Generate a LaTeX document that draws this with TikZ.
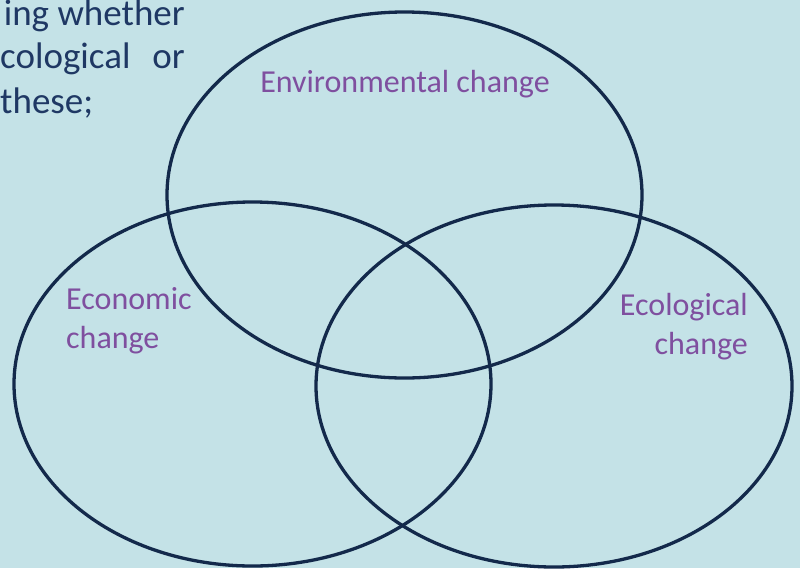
\documentclass[tikz,border=0pt]{standalone}
\usepackage{fontspec}
\setmainfont{Carlito}
\definecolor{bg}{HTML}{C4E2E7}
\definecolor{navy}{HTML}{13294B}
\definecolor{txtblue}{HTML}{1F3864}
\definecolor{lbl}{HTML}{7F4F9F}
\tikzset{
  venn/.style={draw=navy, line width=3.3pt},
  lbltext/.style={text=lbl, font=\fontsize{32}{38}\selectfont, inner sep=0pt},
  bodytext/.style={text=txtblue, font=\fontsize{37}{42}\selectfont, inner sep=0pt}
}
\begin{document}
\begin{tikzpicture}[x=1pt,y=-1pt]
\useasboundingbox (0,0) rectangle (800,568);
\fill[bg] (0,0) rectangle (800,568);
\clip (0,0) rectangle (800,568);
% body text (cropped paragraph)
\node[bodytext, anchor=base east] (t1) at (185,25) {ing whether};
\node[bodytext, anchor=base west] (t2a) at (0,68) {cological};
\node[bodytext, anchor=base east] (t2b) at (185,68) {or};
\node[bodytext, anchor=base west] (t3) at (0,113) {these;};
% ellipses
\draw[venn] (404.5,195) ellipse [x radius=237.5, y radius=183];
\draw[venn] (252.5,384) ellipse [x radius=238.5, y radius=182];
\draw[venn] (554,386) ellipse [x radius=238, y radius=181];
% labels
\node[lbltext, anchor=base] (env) at (405,92) {Environmental change};
\node[lbltext, anchor=base west] (eco1) at (66,309) {Economic};
\node[lbltext, anchor=base west] (eco2) at (66,348) {change};
\node[lbltext, anchor=base east] (ecl1) at (748,315) {Ecological};
\node[lbltext, anchor=base east] (ecl2) at (748,354) {change};
\end{tikzpicture}
\end{document}
